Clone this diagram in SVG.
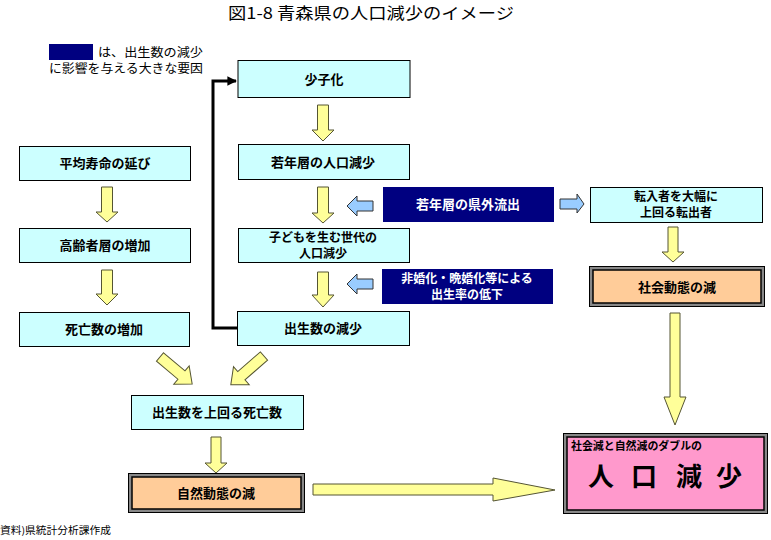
<svg xmlns="http://www.w3.org/2000/svg" width="771" height="540" viewBox="0 0 771 540">
<defs>
<style>
text{font-family:"Noto Sans CJK JP","Noto Sans CJK SC",sans-serif;}
.t{font-size:13px;font-weight:bold;fill:#000;text-anchor:middle;}
.t2{font-size:12px;font-weight:bold;fill:#000;text-anchor:middle;}
.w{font-size:13px;font-weight:bold;fill:#fff;text-anchor:middle;}
.w2{font-size:12px;font-weight:bold;fill:#fff;text-anchor:middle;}
.big{font-size:26px;font-weight:bold;fill:#000;text-anchor:middle;}
.cyan{fill:#CCFFFF;stroke:#000;stroke-width:1;}
.navy{fill:#000080;stroke:#000080;stroke-width:1;}
.ya{fill:#FFFF99;stroke:#555533;stroke-width:1;}
.ba{fill:#99CCFF;stroke:#333;stroke-width:1;}
.dbl{fill:#888;stroke:#000;stroke-width:1;}
.peach{fill:#FFCC99;stroke:#000;stroke-width:1.5;}
.pink{fill:#FF99CC;stroke:#000;stroke-width:1.5;}
</style>
<marker id="ah" viewBox="0 0 10 10" refX="9" refY="5" markerWidth="3.2" markerHeight="3.2" orient="auto">
<path d="M0,0 L10,5 L0,10 z" fill="#000"/>
</marker>
</defs>
<rect width="771" height="540" fill="#fff"/>
<text x="371" y="19" style="font-size:16px;text-anchor:middle" textLength="286" lengthAdjust="spacingAndGlyphs">図1-8  青森県の人口減少のイメージ</text>
<g id="legend">
<rect x="49" y="44" width="44" height="16" fill="#000080"/>
<text style="font-size:12px"><tspan x="98" y="57" textLength="105" lengthAdjust="spacingAndGlyphs">は、出生数の減少</tspan><tspan x="49" y="73" textLength="154" lengthAdjust="spacingAndGlyphs">に影響を与える大きな要因</tspan></text>
</g>
<g id="connectors">
<path d="M237,328 H213 V81 H236" fill="none" stroke="#000" stroke-width="3" marker-end="url(#ah)"/>
<path class="ya" d="M101.5,187 H112.5 V212 H118 L107,222 L96,212 H101.5 Z"/>
<path class="ya" d="M101.5,270 H112.5 V294 H118 L107,305 L96,294 H101.5 Z"/>
<path class="ya" d="M317.5,105 H328.5 V130 H334 L323,141 L312,130 H317.5 Z"/>
<path class="ya" d="M317.5,187 H328.5 V213 H334 L323,223 L312,213 H317.5 Z"/>
<path class="ya" d="M317.5,272 H328.5 V295 H334 L323,307 L312,295 H317.5 Z"/>
<path class="ba" d="M373,201 V211 H357 V216 L347,206 L357,196 V201 Z"/>
<path class="ba" d="M373,279 V289 H357 V294 L347,284 L357,274 V279 Z"/>
<path class="ba" d="M560,199 H577 V194 L584,204 L577,213 V209 H560 Z"/>
<path class="ya" d="M668,227 H678 V252 H684 L673,262 L662,252 H668 Z"/>
<path class="ya" d="M670,313 H680 V397 H686 L675,425 L664,397 H670 Z"/>
<path class="ya" transform="translate(160,357) rotate(40)" d="M0,-5.5 H28 V-12 L42,0 L28,12 V5.5 H0 Z"/>
<path class="ya" transform="translate(264,356) rotate(139)" d="M0,-5.5 H30 V-12 L44,0 L30,12 V5.5 H0 Z"/>
<path class="ya" d="M211,437 H221 V463 H227 L216,473 L205,463 H211 Z"/>
<path class="ya" d="M313,484 H493 V478 L555,490 L493,501 V495 H313 Z"/>
</g>
<g id="n-shoshika"><rect class="cyan" x="238" y="60.5" width="172" height="37"/><text class="t" x="324" y="84">少子化</text></g>
<g id="n-heikin"><rect class="cyan" x="19.5" y="146.5" width="171" height="34"/><text class="t" x="105" y="168">平均寿命の延び</text></g>
<g id="n-koreisha"><rect class="cyan" x="19.5" y="228.5" width="171" height="34"/><text class="t" x="105" y="250">高齢者層の増加</text></g>
<g id="n-shibo"><rect class="cyan" x="19.5" y="312.5" width="170" height="34"/><text class="t" x="104" y="334">死亡数の増加</text></g>
<g id="n-jakunen"><rect class="cyan" x="238.5" y="144.5" width="171" height="35"/><text class="t" x="323" y="167">若年層の人口減少</text></g>
<g id="n-kodomo"><rect class="cyan" x="238.5" y="228.5" width="171" height="34"/><text class="t2"><tspan x="323" y="242">子どもを生む世代の</tspan><tspan x="323" y="258">人口減少</tspan></text></g>
<g id="n-shussei"><rect class="cyan" x="237.5" y="311.5" width="172" height="34"/><text class="t" x="323" y="333">出生数の減少</text></g>
<g id="n-kengai"><rect class="navy" x="383.5" y="187.5" width="170" height="34"/><text class="w" x="468" y="209">若年層の県外流出</text></g>
<g id="n-hikon"><rect class="navy" x="382.5" y="269.5" width="170" height="34"/><text class="w2"><tspan x="467" y="283">非婚化・晩婚化等による</tspan><tspan x="467" y="299">出生率の低下</tspan></text></g>
<g id="n-tennyu"><rect class="cyan" x="590.5" y="187.5" width="172" height="35"/><text class="t2"><tspan x="676" y="201">転入者を大幅に</tspan><tspan x="676" y="217">上回る転出者</tspan></text></g>
<g id="n-shakai"><rect class="dbl" x="589.5" y="266.5" width="175" height="40"/><rect class="peach" x="593" y="270" width="168" height="33"/><text class="t" x="677" y="292">社会動態の減</text></g>
<g id="n-uwamawaru"><rect class="cyan" x="131.5" y="395.5" width="172" height="34"/><text class="t" x="217" y="417">出生数を上回る死亡数</text></g>
<g id="n-shizen"><rect class="dbl" x="128.5" y="473.5" width="176" height="39"/><rect class="peach" x="132" y="477" width="169" height="32"/><text class="t" x="216" y="498">自然動態の減</text></g>
<g id="n-jinko"><rect class="dbl" x="563.5" y="433.5" width="204" height="80"/><rect class="pink" x="567" y="437" width="197" height="73"/><text x="571" y="450" style="font-size:11px;font-weight:bold" textLength="131" lengthAdjust="spacingAndGlyphs">社会減と自然減のダブルの</text><text class="big" x="601" y="486">人</text><text class="big" x="644" y="486">口</text><text class="big" x="689" y="486">減</text><text class="big" x="729" y="486">少</text></g>
<text x="0" y="534" style="font-size:10px" textLength="111" lengthAdjust="spacingAndGlyphs">資料)県統計分析課作成</text>
</svg>
